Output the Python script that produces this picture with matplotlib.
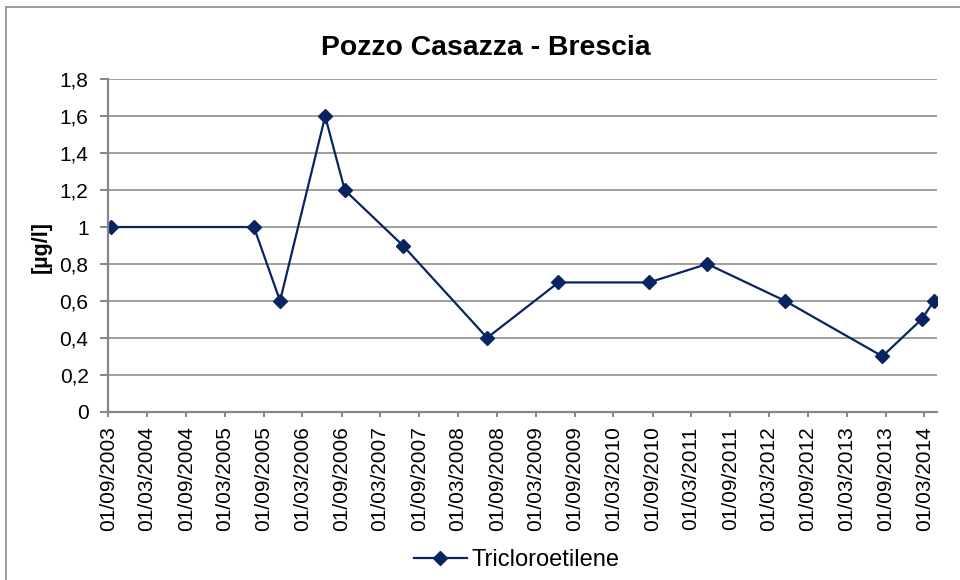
import pandas as pd
import matplotlib
matplotlib.use('Agg')
import matplotlib.pyplot as plt
import matplotlib.dates as mdates
from matplotlib.lines import Line2D
from matplotlib.ticker import FuncFormatter

# campionamenti (mese) e concentrazioni
months = ["2003-09", "2005-07", "2005-11", "2006-06", "2006-09", "2007-06",
          "2008-07", "2009-06", "2010-08", "2011-05", "2012-05", "2013-08",
          "2014-02", "2014-04"]
values = [1.0, 1.0, 0.6, 1.6, 1.2, 0.9, 0.4, 0.7, 0.7, 0.8, 0.6, 0.3, 0.5, 0.6]
x_start = "2003-09-01"
x_end = "2014-05-01"
y_ticks = [0, 0.2, 0.4, 0.6, 0.8, 1.0, 1.2, 1.4, 1.6, 1.8]

title = "Pozzo Casazza - Brescia"
y_label = "[µg/l]"
series = "Tricloroetilene"


def main():
    plt.rcParams['font.family'] = ['Liberation Sans', 'DejaVu Sans']
    df = pd.DataFrame({"month": months, "value": values})
    # punto al centro del mese (asse a base mensile come in Excel)
    df['date'] = pd.to_datetime(df['month'] + "-16")

    line_col = '#0a2462'
    axis_col = '#868686'
    grid_col = '#8e8e8e'

    fig = plt.figure(figsize=(9.6, 5.8), dpi=100)
    ax = fig.add_axes([108.3 / 960, 1 - 411.7 / 580, 829 / 960, 332.4 / 580])

    ax.plot(df['date'], df['value'], color=line_col, lw=1.6,
            marker='D', ms=7, mfc=line_col, mec=line_col, label=series)

    ax.set_xlim(pd.Timestamp(x_start), pd.Timestamp(x_end))
    ax.set_ylim(0, 1.8)
    ax.set_yticks(y_ticks)
    ax.yaxis.set_major_formatter(FuncFormatter(lambda v, p: f"{v:g}".replace('.', ',')))
    ax.xaxis.set_major_locator(mdates.MonthLocator(bymonth=(3, 9), bymonthday=1))
    ax.xaxis.set_major_formatter(mdates.DateFormatter('%d/%m/%Y'))
    for lab in ax.get_xticklabels():
        lab.set_rotation(90)

    ax.grid(axis='y', color=grid_col, lw=1.2)
    ax.set_axisbelow(True)
    for s in ('top', 'right'):
        ax.spines[s].set_visible(False)
    for s in ('left', 'bottom'):
        ax.spines[s].set_color(axis_col)
        ax.spines[s].set_linewidth(1.6)
    ax.tick_params(axis='y', length=5.8, width=1.4, color=axis_col, pad=8.4,
                   labelsize=15, labelcolor='black')
    ax.tick_params(axis='x', length=3.6, width=1.4, color=axis_col, pad=7,
                   labelsize=15, labelcolor='black')

    fig.text(486 / 960, 1 - 55 / 580, title, ha='center', va='baseline',
             fontsize=20.4, fontweight='bold')
    fig.text(41.7 / 960, 1 - 246.7 / 580, y_label, ha='center', va='center',
             rotation=90, fontsize=15.5, fontweight='bold')

    fig.legend(loc='center', bbox_to_anchor=(516.7 / 960, 1 - 560 / 580),
               frameon=False, fontsize=17, handlelength=2.25, handletextpad=0.21)

    # cornice del grafico (solo lati visibili)
    fig.add_artist(Line2D([6 / 960, 1], [1 - 7.3 / 580] * 2, color='#9a9a9a', lw=1.4))
    fig.add_artist(Line2D([6 / 960] * 2, [0, 1 - 7.3 / 580], color='#9a9a9a', lw=1.4))

    fig.savefig('out.png', dpi=100)


if __name__ == "__main__":
    main()
